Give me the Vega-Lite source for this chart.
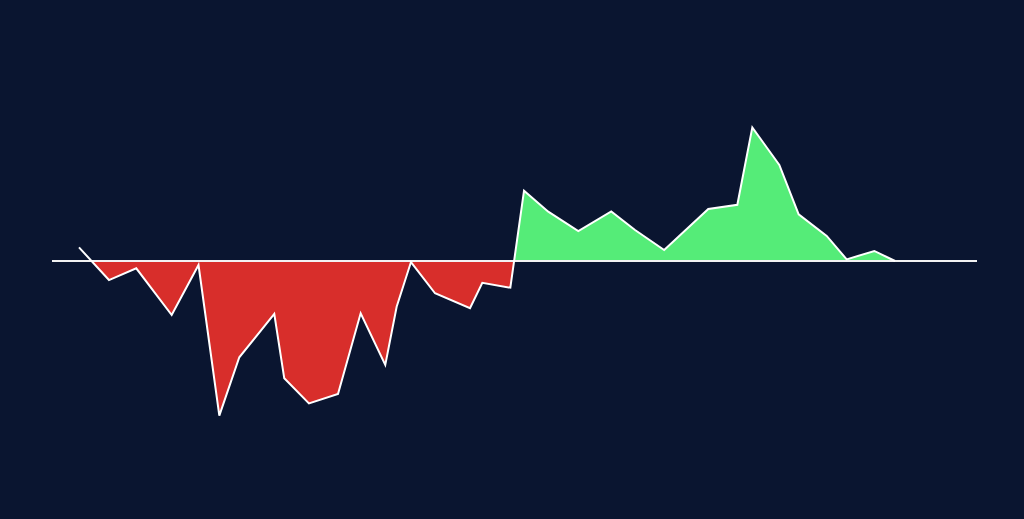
{
  "$schema": "https://vega.github.io/schema/vega-lite/v6.json",
  "width": 1024,
  "height": 519,
  "autosize": {"type": "fit", "contains": "padding"},
  "padding": 0,
  "background": "#0a1530",
  "config": {"view": {"stroke": null}},
  "datasets": {
    "line": [
      {"t": 2.92, "v": 9.1}, {"t": 6.16, "v": -12.7}, {"t": 9.11, "v": -4.9}, {"t": 12.94, "v": -36},
      {"t": 15.84, "v": -2.7}, {"t": 18.09, "v": -103.1}, {"t": 20.25, "v": -64.2}, {"t": 24.03, "v": -35.3},
      {"t": 25.11, "v": -78.2}, {"t": 27.78, "v": -94.9}, {"t": 30.92, "v": -88.7}, {"t": 33.37, "v": -34.9},
      {"t": 36.03, "v": -69.3}, {"t": 37.26, "v": -30.5}, {"t": 38.81, "v": -0.7}, {"t": 41.41, "v": -21.5},
      {"t": 45.19, "v": -31.5}, {"t": 46.52, "v": -14.5}, {"t": 49.55, "v": -17.8}, {"t": 51.03, "v": 46.9},
      {"t": 53.65, "v": 32.9}, {"t": 56.9, "v": 20}, {"t": 60.46, "v": 33.1}, {"t": 63.03, "v": 20.7},
      {"t": 66.18, "v": 7.3}, {"t": 70.95, "v": 34.7}, {"t": 74.09, "v": 37.5}, {"t": 75.71, "v": 89.1},
      {"t": 78.63, "v": 64}, {"t": 80.72, "v": 31.1}, {"t": 83.75, "v": 16.7}, {"t": 85.91, "v": 1.1},
      {"t": 88.9, "v": 6.7}, {"t": 91.14, "v": 0}
    ],
    "neg": [
      {"t": 4.27, "v": 0}, {"t": 6.16, "v": -12.7}, {"t": 9.11, "v": -4.9}, {"t": 12.94, "v": -36},
      {"t": 15.84, "v": -2.7}, {"t": 18.09, "v": -103.1}, {"t": 20.25, "v": -64.2}, {"t": 24.03, "v": -35.3},
      {"t": 25.11, "v": -78.2}, {"t": 27.78, "v": -94.9}, {"t": 30.92, "v": -88.7}, {"t": 33.37, "v": -34.9},
      {"t": 36.03, "v": -69.3}, {"t": 37.26, "v": -30.5}, {"t": 38.81, "v": -0.7}, {"t": 41.41, "v": -21.5},
      {"t": 45.19, "v": -31.5}, {"t": 46.52, "v": -14.5}, {"t": 49.55, "v": -17.8}, {"t": 49.96, "v": 0}
    ],
    "pos": [
      {"t": 49.96, "v": 0}, {"t": 51.03, "v": 46.9},
      {"t": 53.65, "v": 32.9}, {"t": 56.9, "v": 20}, {"t": 60.46, "v": 33.1}, {"t": 63.03, "v": 20.7},
      {"t": 66.18, "v": 7.3}, {"t": 70.95, "v": 34.7}, {"t": 74.09, "v": 37.5}, {"t": 75.71, "v": 89.1},
      {"t": 78.63, "v": 64}, {"t": 80.72, "v": 31.1}, {"t": 83.75, "v": 16.7}, {"t": 85.91, "v": 1.1},
      {"t": 88.9, "v": 6.7}, {"t": 91.14, "v": 0}
    ],
    "base": [{"t0": 0, "t1": 100, "v": 0}]
  },
  "layer": [
    {
      "data": {"name": "neg"},
      "mark": {"type": "area", "color": "#d82e2b", "opacity": 1},
      "encoding": {
        "x": {"field": "t", "type": "quantitative", "axis": null, "scale": {"domain": [-5.62, 105.08], "nice": false, "zero": false}},
        "y": {"field": "v", "type": "quantitative", "axis": null, "scale": {"domain": [-172, 174], "nice": false, "zero": false}},
        "y2": {"datum": 0}
      }
    },
    {
      "data": {"name": "pos"},
      "mark": {"type": "area", "color": "#55ec78", "opacity": 1},
      "encoding": {
        "x": {"field": "t", "type": "quantitative"},
        "y": {"field": "v", "type": "quantitative"},
        "y2": {"datum": 0}
      }
    },
    {
      "data": {"name": "base"},
      "mark": {"type": "rule", "color": "#f2f2f2", "strokeWidth": 2},
      "encoding": {
        "x": {"field": "t0", "type": "quantitative"},
        "x2": {"field": "t1"},
        "y": {"field": "v", "type": "quantitative"}
      }
    },
    {
      "data": {"name": "line"},
      "mark": {"type": "line", "color": "#ffffff", "strokeWidth": 2, "strokeJoin": "miter"},
      "encoding": {
        "x": {"field": "t", "type": "quantitative"},
        "y": {"field": "v", "type": "quantitative"}
      }
    }
  ]
}
